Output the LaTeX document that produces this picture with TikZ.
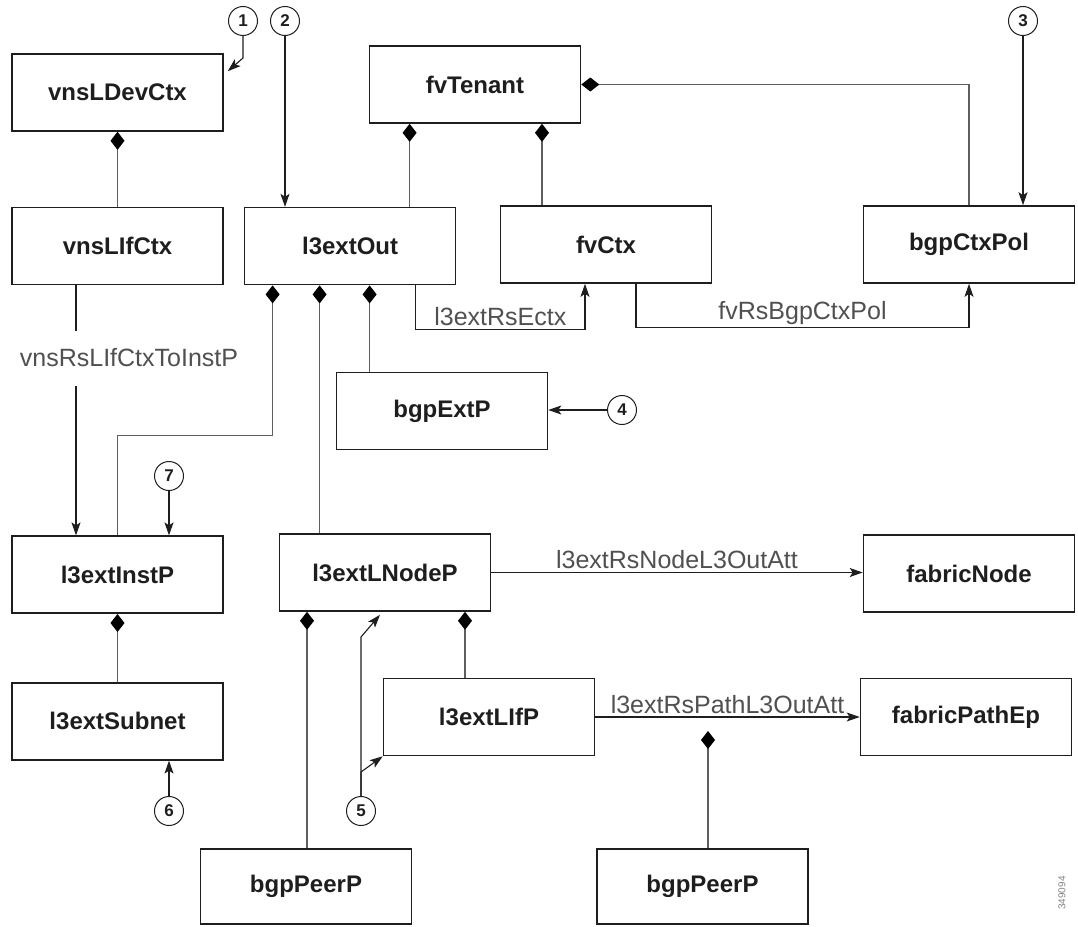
\documentclass[tikz,border=0pt]{standalone}
\usepackage{fontspec}
\setmainfont{Liberation Sans}
\usetikzlibrary{arrows.meta,positioning}

\definecolor{boxGray}{RGB}{30,30,30}
\definecolor{lineGray}{RGB}{95,95,95}
\definecolor{labelGray}{RGB}{80,80,80}

\begin{document}
\begin{tikzpicture}[x=1pt, y=-1pt,
        obj/.style={rectangle, draw=boxGray, line width=1.6pt, minimum width=211pt, minimum height=77pt, inner sep=0pt, font=\fontsize{24}{28}\selectfont\bfseries, text=boxGray},
        callout/.style={circle, draw=boxGray, line width=1pt, fill=white, minimum size=29pt, inner sep=0pt, font=\fontsize{17}{20}\selectfont\bfseries, text=boxGray},
        comp/.style={draw=lineGray, line width=1.1pt, -{Diamond[length=18pt, width=14pt, color=black]}},
        rel/.style={draw=boxGray, line width=1.1pt, -{Stealth[length=13pt, width=9pt, inset=3pt]}},
        rlabel/.style={font=\fontsize{25}{28}\selectfont, text=labelGray, inner sep=3pt}
    ]
        \useasboundingbox (0,0) rectangle (1078,926);

        % managed objects
        \node[obj] (vnsLDevCtx) at (117.5,92.5) {vnsLDevCtx};
        \node[obj, below=75pt of vnsLDevCtx] (vnsLIfCtx) {vnsLIfCtx};
        \node[obj, right=20pt of vnsLIfCtx] (l3extOut) {l3extOut};
        \node[obj] (fvTenant) at (475,84.5) {fvTenant};
        \node[obj] (fvCtx) at (606,244.5) {fvCtx};
        \node[obj] (bgpCtxPol) at (969,244.5) {bgpCtxPol};
        \node[obj] (bgpExtP) at (442,411) {bgpExtP};
        \node[obj, below=250pt of vnsLIfCtx] (l3extInstP) {l3extInstP};
        \node[obj, below=68pt of l3extInstP] (l3extSubnet) {l3extSubnet};
        \node[obj] (l3extLNodeP) at (385,572.5) {l3extLNodeP};
        \node[obj] (fabricNode) at (969,573.5) {fabricNode};
        \node[obj] (l3extLIfP) at (489,717) {l3extLIfP};
        \node[obj] (fabricPathEp) at (966,717) {fabricPathEp};
        \node[obj, minimum height=75pt] (bgpPeerL) at (306,886.5) {bgpPeerP};
        \node[obj, minimum height=75pt] (bgpPeerR) at (702.5,886.5) {bgpPeerP};

        % numbered callouts
        \foreach \n/\x/\y in {1/243/21, 2/285/21, 3/1023/21, 4/622/410, 5/361/811, 6/169/811, 7/169/476} {
            \node[callout] (c\n) at (\x,\y) {\n};
        }

        % containment
        \draw[comp] (vnsLIfCtx) -- (vnsLDevCtx);
        \coordinate (tenL) at ([xshift=59.5pt]l3extOut.north);
        \coordinate (tenR) at ([xshift=-64pt]fvCtx.north);
        \draw[comp] (tenL) -- (tenL |- fvTenant.south);
        \draw[comp] (tenR) -- (tenR |- fvTenant.south);
        \draw[comp] (bgpCtxPol.north) |- (fvTenant.east);

        \coordinate (outA) at ([xshift=-77.5pt]l3extOut.south);
        \coordinate (outB) at ([xshift=-30.5pt]l3extOut.south);
        \coordinate (outC) at ([xshift=19.5pt]l3extOut.south);
        \draw[comp] (l3extInstP.north) -- ++(0,-100) -| (outA);
        \draw[comp] (outB |- l3extLNodeP.north) -- (outB);
        \draw[comp] (outC |- bgpExtP.north) -- (outC);
        \draw[comp] (l3extSubnet) -- (l3extInstP);

        \coordinate (nodeA) at ([xshift=-78pt]l3extLNodeP.south);
        \coordinate (nodeB) at ([xshift=80pt]l3extLNodeP.south);
        \draw[comp] (nodeA |- bgpPeerL.north) -- (nodeA);
        \draw[comp] (nodeB |- l3extLIfP.north) -- (nodeB);
        \coordinate (pathAtt) at (708,731);
        \draw[comp] (pathAtt |- bgpPeerR.north) -- (pathAtt);

        % relations
        \coordinate (ifA) at ([xshift=-41.5pt]vnsLIfCtx.south);
        \draw[rel] (ifA) -- (ifA |- l3extInstP.north);
        \node[rlabel, fill=white, minimum height=55pt] (instLbl) at (129,358) {vnsRsLIfCtxToInstP};

        \coordinate (ectxA) at ([xshift=65.5pt]l3extOut.south);
        \coordinate (ectxB) at ([xshift=-21pt]fvCtx.south);
        \coordinate (ectxM) at ([yshift=-44pt]ectxA);
        \draw[rel] (ectxA) -- (ectxM) -- (ectxM -| ectxB) node[rlabel, midway, above] (ectxLbl) {l3extRsEctx} -- (ectxB);

        \coordinate (bgpA) at ([xshift=30pt]fvCtx.south);
        \coordinate (bgpM) at ([yshift=-44pt]bgpA);
        \draw[rel] (bgpA) -- (bgpM) -- (bgpM -| bgpCtxPol.south) node[rlabel, midway, above] (bgpLbl) {fvRsBgpCtxPol} -- (bgpCtxPol.south);

        \draw[rel] (l3extLNodeP.east) -- (l3extLNodeP.east -| fabricNode.west) node[rlabel, midway, above] (nodeLbl) {l3extRsNodeL3OutAtt};
        \draw[rel] (l3extLIfP.east) -- (l3extLIfP.east -| fabricPathEp.west) node[rlabel, midway, above] (pathLbl) {l3extRsPathL3OutAtt};

        % callout pointers
        \draw[rel] (c1) -- ++(0,37) -- ([xshift=4pt,yshift=-18pt]vnsLDevCtx.north east);
        \draw[rel] (c2) -- (c2 |- l3extOut.north);
        \draw[rel] (c3) -- (c3 |- bgpCtxPol.north);
        \draw[rel] (c4) -- (c4 -| bgpExtP.east);
        \draw[rel] (c7) -- (c7 |- l3extInstP.north);
        \draw[rel] (c6) -- (c6 |- l3extSubnet.south);
        \draw[rel] (c5) -- ++(0,-39) -- (l3extLIfP.south west);
        \draw[rel] (c5) -- ++(0,-174) -- ([xshift=-5pt,yshift=-3pt]l3extLNodeP.south);

        \node[rotate=90, font=\fontsize{10}{12}\selectfont, text=labelGray!70] (figId) at (1062,893) {349094};
    \end{tikzpicture}
\end{document}
